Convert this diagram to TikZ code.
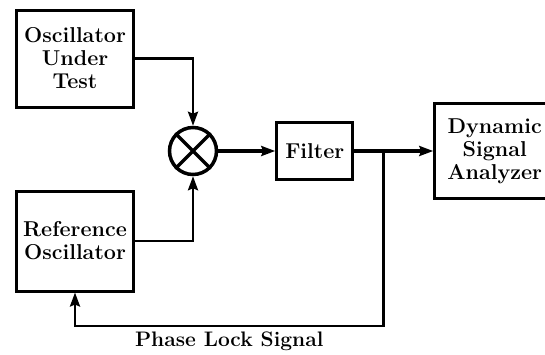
\documentclass[tikz,border=0pt]{standalone}
\usetikzlibrary{arrows.meta, calc, positioning}
\begin{document}
\begin{tikzpicture}[
	x=1pt, y=-1pt,
	blockbox/.style={draw, line width=3pt, minimum width=117pt,
		minimum height=97pt, inner sep=0pt, align=center,
		font=\fontsize{21.5}{23}\selectfont\bfseries},
	filterbox/.style={blockbox, minimum width=76pt, minimum height=57pt},
	mixer/.style={draw, circle, line width=3.5pt, minimum size=47pt, inner sep=0pt},
	sig/.style={-{Stealth[length=14pt, width=10pt, inset=2pt]}, line width=2.6pt},
	bus/.style={sig, line width=4.5pt},
	lbl/.style={font=\fontsize{21}{23}\selectfont\bfseries, inner sep=0pt}
	]
	\useasboundingbox (0,0) rectangle (545,354);
	\clip (0,0) rectangle (545,354);
	\node[blockbox] (out) at (75,58.5) {Oscillator\\Under\\Test};
	\node[blockbox, below=81pt of out, minimum height=100pt] (ref)
	{Reference\\Oscillator};
	\node[mixer] (mix) at (193,151) {};
	\draw[line width=3.5pt] (mix.north east) -- (mix.south west)
	(mix.north west) -- (mix.south east);
	\node[filterbox, right=57pt of mix] (filter) {Filter};
	\node[blockbox, right=79pt of filter, minimum width=120pt, minimum height=95pt] (dsa)
	{Dynamic\\Signal\\Analyzer};
	% tap point for the feedback loop
	\coordinate (tap) at ($(filter.east)!0.37!(dsa.west)$);
	\coordinate (bend) at ($(tap)+(0,175)$);
	\draw[sig] (out.east) -| (mix.north);
	\draw[sig] (ref.east) -| (mix.south);
	\draw[bus] (mix) -- (filter);
	\draw[bus] (filter) -- (dsa);
	\draw[sig] (tap) -- (bend) -| (ref.south)
	node[pos=0.25, below=5pt, lbl]{Phase Lock Signal};
\end{tikzpicture}
\end{document}
